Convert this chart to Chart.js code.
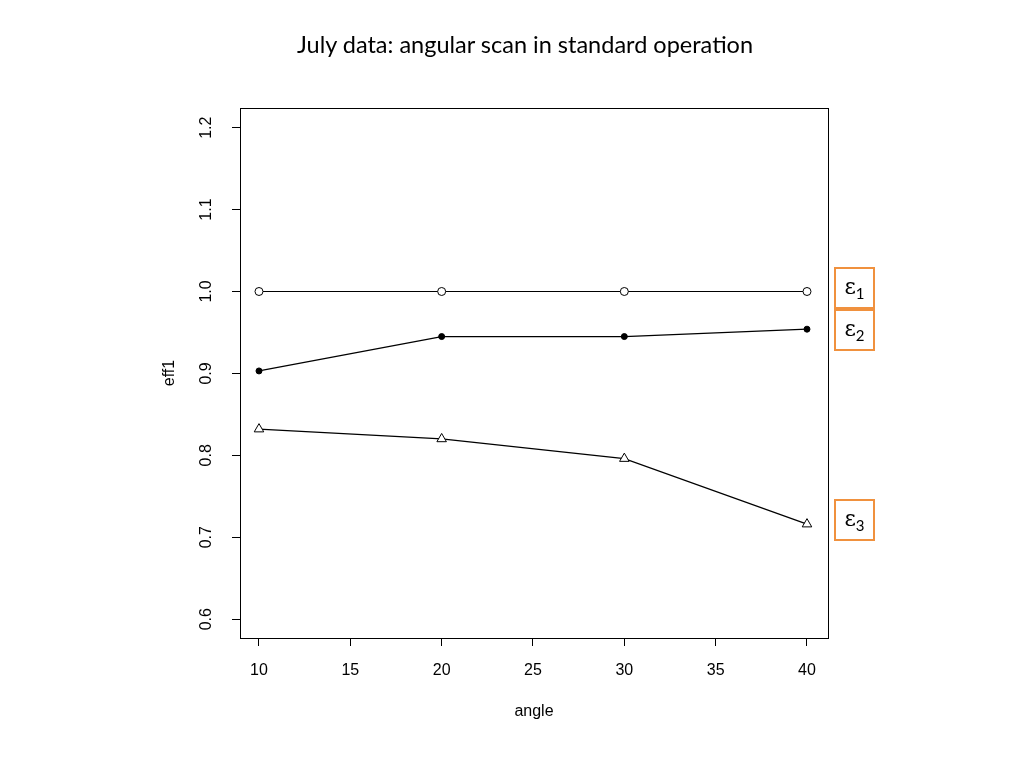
<!DOCTYPE html>
<html>
<head>
<meta charset="utf-8">
<script src="https://cdn.jsdelivr.net/npm/chart.js@4"></script>
<style>
  body { margin: 0; background: #fff; }
  #wrap { position: relative; width: 1024px; height: 768px; }
  #title {
    position: absolute; left: 0; width: 1050px; top: 30px;
    text-align: center; font-family: Lato, 'Open Sans', sans-serif; font-size: 23.5px; color: #000;
  }
  .eps {
    position: absolute; width: 37px; height: 38px; border: 2.5px solid #F0913E;
    font-family: 'DejaVu Serif', serif; font-size: 22px; text-align: center; line-height: 36px; color: #000;
  }
  .eps sub { font-family: Lato, sans-serif; font-size: 15px; }
</style>
</head>
<body>
<div id="wrap">
  <canvas id="c" width="1024" height="768"></canvas>
  <div id="title">July data: angular scan in standard operation</div>
  <div class="eps" style="left:834px; top:267px;">ε<sub>1</sub></div>
  <div class="eps" style="left:834px; top:309px;">ε<sub>2</sub></div>
  <div class="eps" style="left:834px; top:499px;">ε<sub>3</sub></div>
</div>
<script>
const angles = [10, 20, 30, 40];
const eff1 = [1.0, 1.0, 1.0, 1.0];
const eff2 = [0.903, 0.945, 0.945, 0.954];
const eff3 = [0.832, 0.820, 0.796, 0.716];
const xTicks = [10, 15, 20, 25, 30, 35, 40];
const yTicks = [0.6, 0.7, 0.8, 0.9, 1.0, 1.1, 1.2];

const toPoints = (ys) => angles.map((a, i) => ({ x: a, y: ys[i] }));

// box around the plot area + rotated y tick labels (R style)
const rBox = {
  id: 'rBox',
  afterDraw(chart) {
    const { ctx, chartArea: a, scales: { y } } = chart;
    ctx.save();
    ctx.strokeStyle = '#000';
    ctx.lineWidth = 1;
    ctx.strokeRect(a.left + 0.5, a.top + 0.5, a.right - a.left, a.bottom - a.top);
    ctx.fillStyle = '#000';
    ctx.font = '16px "Liberation Sans", Arial, sans-serif';
    ctx.textAlign = 'center';
    ctx.textBaseline = 'middle';
    yTicks.forEach(v => {
      ctx.save();
      ctx.translate(207, y.getPixelForValue(v));
      ctx.rotate(-Math.PI / 2);
      ctx.fillText(v.toFixed(1), 0, 0);
      ctx.restore();
    });
    ctx.restore();
  }
};

const base = {
  borderColor: '#000',
  borderWidth: 1.2,
  pointBorderColor: '#000',
  pointBorderWidth: 1,
  tension: 0
};

new Chart(document.getElementById('c'), {
  type: 'line',
  data: {
    datasets: [
      { ...base, label: 'eff1', data: toPoints(eff1), pointStyle: 'circle', pointRadius: 4, pointBackgroundColor: '#fff' },
      { ...base, label: 'eff2', data: toPoints(eff2), pointStyle: 'circle', pointRadius: 3, pointBackgroundColor: '#000' },
      { ...base, label: 'eff3', data: toPoints(eff3), pointStyle: 'triangle', pointRadius: 5.5, pointBackgroundColor: '#fff' }
    ]
  },
  options: {
    responsive: false,
    animation: false,
    layout: { padding: { left: 0, top: 108, right: 196, bottom: 0 } },
    plugins: { legend: { display: false }, tooltip: { enabled: false } },
    scales: {
      x: {
        type: 'linear',
        min: 8.96,
        max: 41.15,
        afterBuildTicks: (s) => { s.ticks = xTicks.map(v => ({ value: v })); },
        afterFit: (s) => { s.height = 130; },
        grid: { drawOnChartArea: false, drawTicks: true, tickLength: 8, tickColor: '#000' },
        border: { display: false },
        ticks: { color: '#000', padding: 15, maxRotation: 0, font: { family: 'Liberation Sans', size: 16 } },
        title: { display: true, text: 'angle', color: '#000', font: { family: 'Liberation Sans', size: 16 }, padding: { top: 0, bottom: 47 } }
      },
      y: {
        min: 0.577,
        max: 1.224,
        afterBuildTicks: (s) => { s.ticks = yTicks.map(v => ({ value: v })); },
        afterFit: (s) => { s.width = 240; },
        grid: { drawOnChartArea: false, drawTicks: true, tickLength: 8, tickColor: '#000' },
        border: { display: false },
        ticks: { display: false },
        title: { display: true, text: 'eff1', color: '#000', font: { family: 'Liberation Sans', size: 16 }, padding: { top: 160, bottom: 0 } }
      }
    }
  },
  plugins: [rBox]
});
</script>
</body>
</html>
